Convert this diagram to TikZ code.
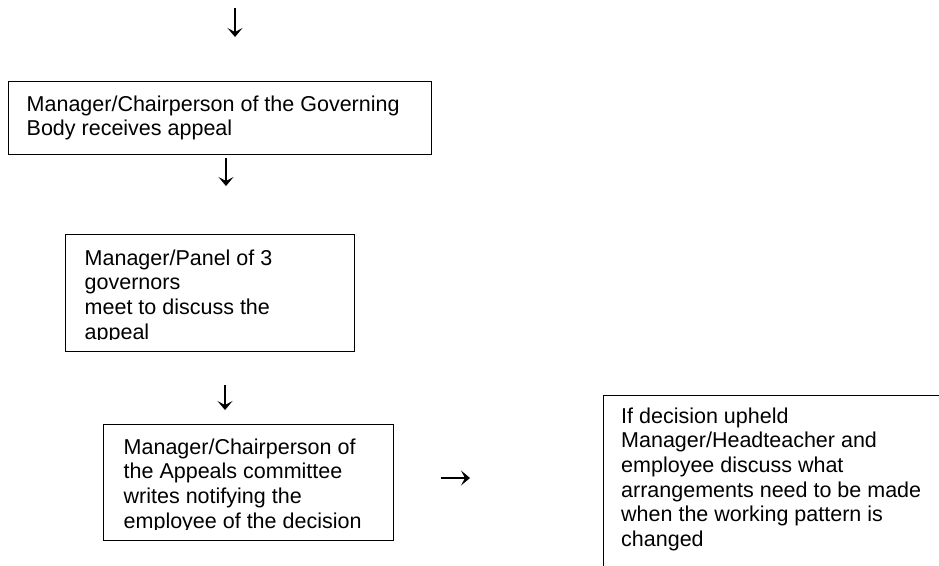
\documentclass[tikz,border=0pt]{standalone}
\usepackage{fontspec}
\setmainfont{Liberation Sans}
\usetikzlibrary{arrows.meta}
\begin{document}
\begin{tikzpicture}[x=1pt,y=-1pt,
  box/.style={draw, line width=1.3pt, rectangle, inner sep=0pt, anchor=north west},
  txt/.style={anchor=base west, inner sep=0pt, align=left, font=\fontsize{21.5}{24.7}\selectfont},
  arr/.style={line width=1.1pt, -{Stealth[length=9pt,width=15pt,inset=4pt]}}]
\clip (0,0) rectangle (939,565);
\fill[white] (0,0) rectangle (939,565);
% boxes
\node[box, minimum width=423pt, minimum height=73pt] (b1) at (8,81) {};
\node[box, minimum width=289pt, minimum height=117pt] (b2) at (65,234) {};
\node[box, minimum width=290pt, minimum height=116pt] (b3) at (103,424) {};
\node[box, minimum width=360pt, minimum height=220pt] (b4) at (603,395) {};
% texts (anchored at the baseline of the last line)
\node[txt] (t1) at (26.5,135.7) {Manager/Chairperson of the Governing\\Body receives appeal};
\begin{scope}
\clip (60,230) rectangle (360,339.5);
\node[txt] (t2) at (84.5,339.1) {Manager/Panel of 3\\governors\\meet to discuss the\\appeal};
\end{scope}
\begin{scope}
\clip (100,420) rectangle (400,529.5);
\node[txt] (t3) at (123.5,528.1) {Manager/Chairperson of\\the Appeals committee\\writes notifying the\\employee of the decision};
\end{scope}
\node[txt] (t4) at (621,546.5) {If decision upheld\\Manager/Headteacher and\\employee discuss what\\arrangements need to be made\\when the working pattern is\\changed};
% arrows
\coordinate (a1s) at (235,8);   \coordinate (a1e) at (235,37);
\coordinate (a2s) at (226,158); \coordinate (a2e) at (226,186);
\coordinate (a3s) at (225,385); \coordinate (a3e) at (225,410);
\coordinate (a4s) at (441,478); \coordinate (a4e) at (470,478);
\draw[arr] (a1s) -- (a1e);
\draw[arr] (a2s) -- (a2e);
\draw[arr] (a3s) -- (a3e);
\draw[arr] (a4s) -- (a4e);
\end{tikzpicture}
\end{document}
